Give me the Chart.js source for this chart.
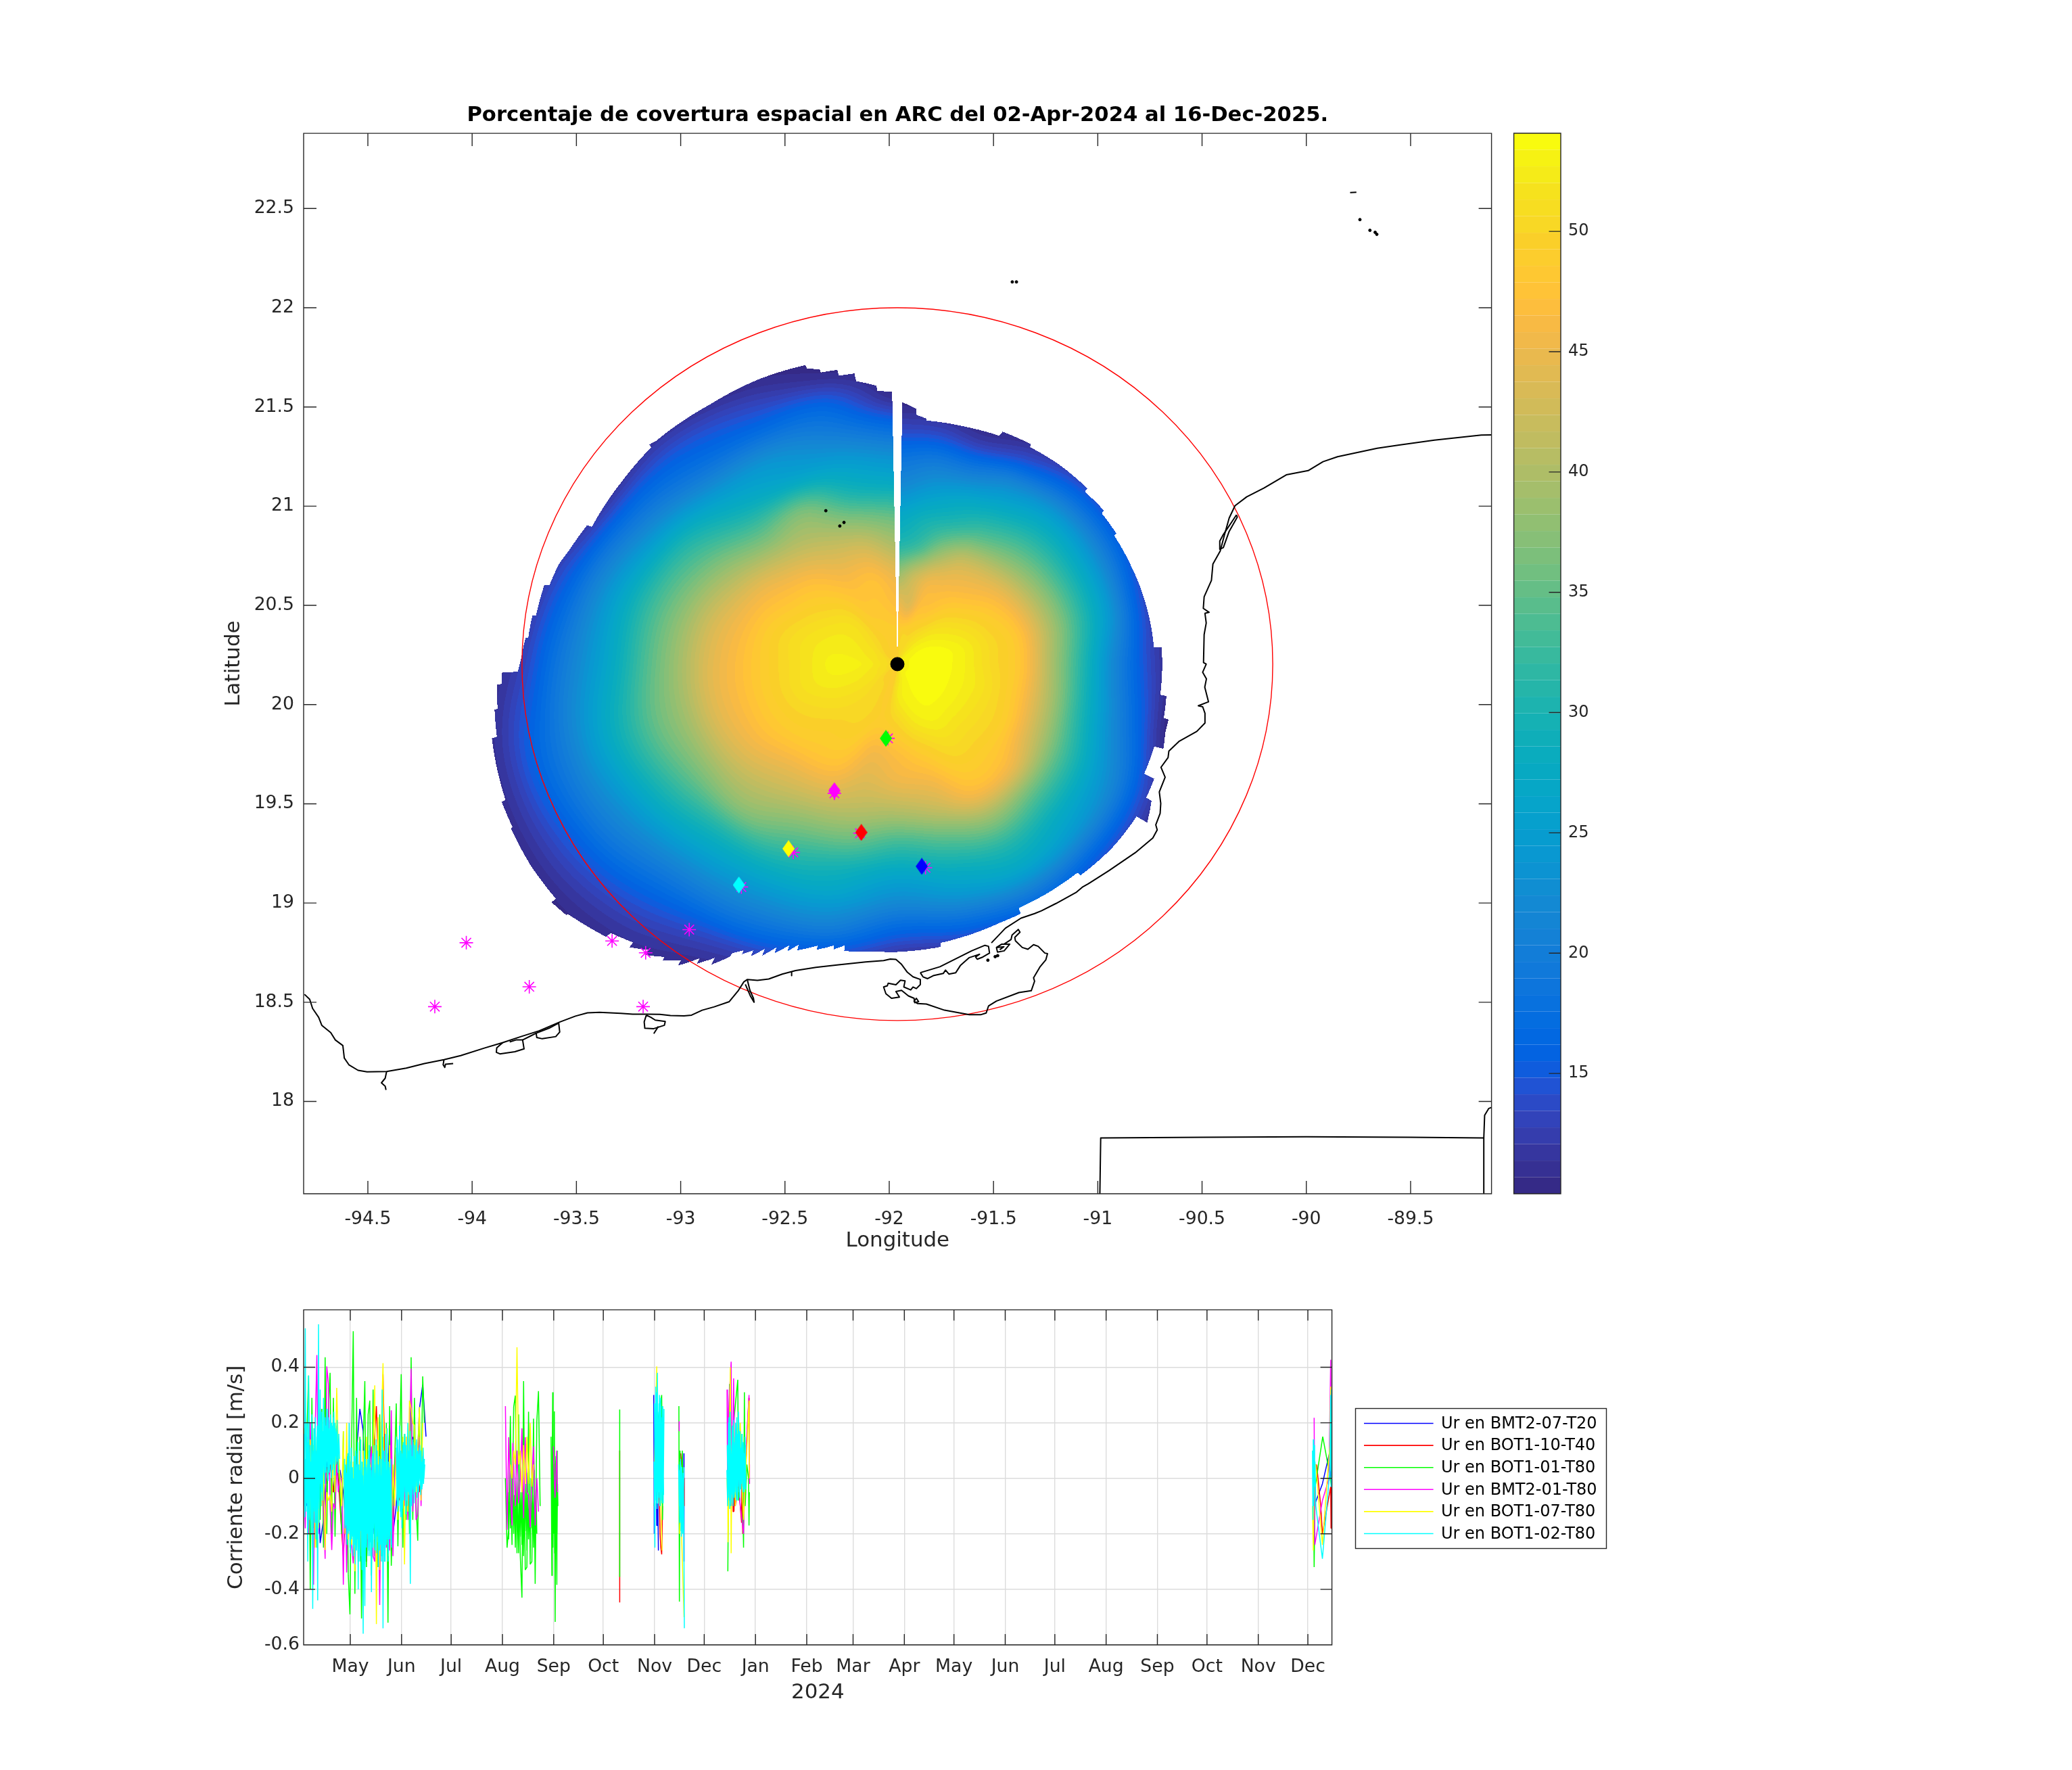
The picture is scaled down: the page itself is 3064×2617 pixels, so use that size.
<!DOCTYPE html>
<html>
<head>
<meta charset="utf-8">
<title>Porcentaje de covertura espacial</title>
<script src="https://cdn.jsdelivr.net/npm/chart.js@4/dist/chart.umd.js"></script>
<style>
body { margin: 0; background: #ffffff; }
canvas { position: absolute; left: 0; top: 0; }
</style>
</head>
<body>
<canvas id="mapChart" width="3064" height="2617"></canvas>
<canvas id="barChart" width="3064" height="2617"></canvas>
<canvas id="seriesChart" width="3064" height="2617"></canvas>
<script>
// ---- radar site, range ring, axis ticks
const siteLon = -91.961;
const siteLat = 20.204;
const ringRadiusLon = 1.8;
const ringRadiusLat = 1.796;
const lonTicks = [-94.5, -94, -93.5, -93, -92.5, -92, -91.5, -91, -90.5, -90, -89.5];
const latTicks = [18, 18.5, 19, 19.5, 20, 20.5, 21, 21.5, 22, 22.5];
const colorTicks = [15, 20, 25, 30, 35, 40, 45, 50];
const radialTicks = [-0.6, -0.4, -0.2, 0, 0.2, 0.4];
const colorMin = 10;
const colorMax = 54.08;

// ---- coverage [%], one row per bearing (deg from north), one column per range (deg)
const coverRanges = [0, 0.15, 0.3, 0.45, 0.6, 0.75, 0.9, 1.05, 1.2, 1.35, 1.5, 1.65, 1.8, 1.95, 2.1];
const coverBearings = [1.05, 10, 20, 30, 45, 60, 75, 90, 105, 120, 135, 150, 165, 180, 195, 210, 225, 240, 255, 270, 285, 300, 315, 330, 345, 358.95];
const coverTable = [
    [49, 49, 45, 39, 31, 27, 22, 18, 13, 10, 10, 10, 10, 10, 10],
    [50, 50, 44, 42, 33, 29, 24, 19, 13, 10, 10, 10, 10, 10, 10],
    [51, 50, 47, 45, 38, 31, 26, 19, 12, 10, 10, 10, 10, 10, 10],
    [52, 51, 48, 46, 42, 34, 28, 22, 14, 10, 10, 10, 10, 10, 10],
    [53, 52.5, 50.5, 47.5, 44, 37, 31, 25, 17, 11, 10, 10, 10, 10, 10],
    [53, 53.5, 52, 49.5, 46, 39, 32, 25, 17, 10, 10, 10, 10, 10, 10],
    [53, 54, 53, 50.5, 47.5, 40, 32, 24, 15, 10, 10, 10, 10, 10, 10],
    [53, 54, 53, 50.5, 47.5, 39, 30, 21, 14, 10, 10, 10, 10, 10, 10],
    [53, 54, 53, 51, 47.5, 40, 31, 23, 16, 10, 10, 10, 10, 10, 10],
    [53, 54, 53, 51, 48.5, 42, 34, 27, 21, 14, 10, 10, 10, 10, 10],
    [53, 54, 53, 51, 49, 45.5, 36, 29, 24, 16, 11, 10, 10, 10, 10],
    [53, 53.5, 53, 51, 49, 46, 38, 31, 26, 18, 11, 10, 10, 10, 10],
    [52, 53, 52, 49, 46, 42, 35, 29, 24, 17, 11, 10, 10, 10, 10],
    [50, 52, 50, 47, 45, 40, 33, 27, 22, 16, 11, 10, 10, 10, 10],
    [49, 49, 49, 46, 44, 41, 36, 30, 26, 21, 15, 11, 10, 10, 10],
    [49, 50, 50, 49, 47, 43, 38, 33, 28, 23, 18, 13, 10.5, 10, 10],
    [49, 50.5, 50.5, 49.5, 48, 44.5, 41, 37, 30, 25, 20, 16, 13, 11, 10],
    [50, 51.5, 51.5, 50.5, 49, 46.5, 43, 38, 33, 28, 23, 19, 15, 12, 10],
    [50, 52, 52.5, 51.5, 49.5, 47, 44, 39, 35, 30, 25, 20, 16, 12, 10],
    [50, 52.5, 53, 51.5, 49.5, 47, 44, 39, 34, 28, 23, 18, 13, 10.5, 10],
    [50, 52, 52.5, 51.5, 49.5, 46.5, 43, 38, 33, 27, 21, 15, 11, 10, 10],
    [50, 51.5, 52, 50.5, 48, 45, 40, 35, 30, 23, 17, 11, 10, 10, 10],
    [49, 50.5, 51, 49, 46.5, 42, 36, 30, 25, 19, 15, 11, 10, 10, 10],
    [49, 49.5, 48.5, 47, 44, 40, 36, 27, 23, 17, 13, 10, 10, 10, 10],
    [49, 49, 48, 47, 43, 37, 30, 25, 20, 16, 11, 10, 10, 10, 10],
    [49, 49, 47, 45, 40, 35, 28, 23, 17, 11, 10, 10, 10, 10, 10]
];

// ---- outer limit of the coverage, bearing (deg) and range (deg), jagged like the radials
const edgeBearing = [1.05, 4, 4.1, 6.4, 6.5, 15.5, 23, 23.3, 30, 30.2, 38, 45.8, 46, 52, 52.2, 57.9, 58.1, 66, 73, 86, 86.1, 97, 97.1, 102, 102.1, 105, 108.5, 108.6, 115, 115.1, 119.4, 119.5, 123.7, 123.8, 132, 140.5, 140.6, 154.7, 154.8, 159.4, 162.4, 171.6, 171.7, 182, 183, 190, 190.1, 192, 192.1, 195, 195.1, 198.4, 198.5, 200, 200.1, 202, 202.1, 203.8, 203.9, 205.5, 205.6, 207, 207.1, 208.5, 208.6, 210.5, 210.6, 212.5, 212.6, 214.7, 214.8, 217, 217.1, 219.5, 219.6, 222, 222.1, 225.4, 225.5, 231.4, 231.5, 234.1, 234.2, 240, 245.9, 246, 249.9, 250, 255, 259.1, 259.2, 263.2, 263.3, 266.9, 267, 268.7, 268.8, 270.6, 274.2, 274.3, 278, 278.1, 283.3, 283.4, 287.2, 290, 295.2, 295.3, 305, 312.8, 312.9, 314.1, 320, 325.6, 335, 343.7, 343.8, 345.9, 346, 349, 349.1, 352, 352.1, 355.9, 356, 358.95];
const edgeRange = [1.32, 1.29, 1.26, 1.245, 1.235, 1.24, 1.25, 1.275, 1.28, 1.265, 1.27, 1.27, 1.25, 1.257, 1.24, 1.239, 1.225, 1.225, 1.228, 1.233, 1.27, 1.27, 1.3, 1.306, 1.33, 1.33, 1.345, 1.3, 1.306, 1.36, 1.37, 1.4, 1.44, 1.38, 1.385, 1.38, 1.36, 1.36, 1.39, 1.393, 1.40, 1.42, 1.44, 1.453, 1.45, 1.468, 1.44, 1.47, 1.45, 1.49, 1.47, 1.52, 1.49, 1.54, 1.51, 1.57, 1.54, 1.606, 1.57, 1.63, 1.6, 1.64, 1.62, 1.657, 1.68, 1.758, 1.72, 1.79, 1.76, 1.848, 1.82, 1.87, 1.85, 1.9, 1.87, 1.92, 1.89, 1.93, 1.96, 2.02, 2.03, 2.047, 2.02, 2.03, 2.03, 2.02, 2.02, 2.0, 1.99, 1.98, 1.955, 1.945, 1.93, 1.923, 1.9, 1.898, 1.82, 1.806, 1.788, 1.775, 1.767, 1.75, 1.739, 1.715, 1.70, 1.675, 1.644, 1.62, 1.61, 1.608, 1.625, 1.614, 1.6, 1.587, 1.582, 1.57, 1.55, 1.532, 1.515, 1.51, 1.48, 1.479, 1.44, 1.407, 1.38, 1.372];

// ---- buoys and moorings
const starLon = [-94.028, -94.179, -93.726, -93.18, -93.329, -93.168, -92.959, -92.46, -92.006, -92.263, -92.14, -91.826, -92.709];
const starLat = [18.8, 18.478, 18.578, 18.478, 18.809, 18.749, 18.866, 19.255, 19.83, 19.553, 19.352, 19.178, 19.081];
const diamondNames = ["yellow", "aqua", "lime", "magenta", "red", "blue"];
const diamondLon = [-92.483, -92.721, -92.016, -92.263, -92.134, -91.844];
const diamondLat = [19.274, 19.091, 19.83, 19.566, 19.356, 19.185];

// ---- coast, lon lat pairs
const coastWest = [[-94.804, 18.54], [-94.779, 18.515], [-94.765, 18.469], [-94.736, 18.424], [-94.721, 18.384], [-94.678, 18.347], [-94.656, 18.31], [-94.62, 18.282], [-94.613, 18.219], [-94.591, 18.185], [-94.547, 18.157], [-94.504, 18.149], [-94.41, 18.151], [-94.316, 18.168], [-94.229, 18.191], [-94.135, 18.211], [-94.055, 18.231], [-93.939, 18.27], [-93.853, 18.297], [-93.766, 18.327], [-93.679, 18.356], [-93.578, 18.401], [-93.505, 18.43], [-93.447, 18.447], [-93.389, 18.449], [-93.288, 18.444], [-93.23, 18.44], [-93.158, 18.44], [-93.1, 18.439], [-93.049, 18.433], [-92.984, 18.431], [-92.948, 18.435], [-92.897, 18.46], [-92.839, 18.477], [-92.767, 18.503], [-92.723, 18.56], [-92.697, 18.603], [-92.68, 18.615], [-92.632, 18.61], [-92.578, 18.617], [-92.513, 18.642], [-92.449, 18.66], [-92.351, 18.676], [-92.243, 18.689], [-92.113, 18.703], [-92.027, 18.71], [-91.995, 18.718], [-91.968, 18.716], [-91.941, 18.691], [-91.913, 18.651], [-91.886, 18.628], [-91.851, 18.615], [-91.851, 18.589], [-91.87, 18.569], [-91.886, 18.577], [-91.897, 18.562], [-91.93, 18.577], [-91.924, 18.608], [-91.946, 18.611], [-91.968, 18.588], [-92.005, 18.596], [-92.009, 18.583], [-92.027, 18.577], [-92.016, 18.543], [-91.989, 18.52], [-91.951, 18.526], [-91.968, 18.554], [-91.941, 18.56], [-91.908, 18.532], [-91.881, 18.52], [-91.878, 18.498], [-91.859, 18.503], [-91.87, 18.52], [-91.881, 18.505], [-91.865, 18.494], [-91.822, 18.491], [-91.735, 18.46], [-91.616, 18.437], [-91.562, 18.437], [-91.535, 18.446], [-91.524, 18.481], [-91.486, 18.506], [-91.378, 18.549], [-91.319, 18.558], [-91.303, 18.606], [-91.308, 18.623], [-91.276, 18.68], [-91.249, 18.714], [-91.241, 18.745], [-91.254, 18.748], [-91.286, 18.782], [-91.308, 18.79], [-91.335, 18.767], [-91.362, 18.776], [-91.395, 18.81], [-91.398, 18.827], [-91.373, 18.853], [-91.381, 18.867], [-91.411, 18.839], [-91.416, 18.816], [-91.449, 18.793]];
const coastEast = [[-91.51, 18.799], [-91.443, 18.873], [-91.368, 18.924], [-91.303, 18.947], [-91.27, 18.961], [-91.2, 18.998], [-91.102, 19.055], [-91.074, 19.08], [-91.045, 19.097], [-90.947, 19.163], [-90.82, 19.254], [-90.736, 19.328], [-90.715, 19.369], [-90.722, 19.394], [-90.701, 19.452], [-90.698, 19.502], [-90.705, 19.56], [-90.677, 19.634], [-90.697, 19.684], [-90.663, 19.733], [-90.659, 19.766], [-90.609, 19.816], [-90.525, 19.865], [-90.486, 19.907], [-90.486, 19.956], [-90.497, 19.989], [-90.518, 19.994], [-90.469, 20.014], [-90.487, 20.088], [-90.479, 20.13], [-90.497, 20.163], [-90.48, 20.204], [-90.493, 20.212], [-90.49, 20.353], [-90.48, 20.411], [-90.486, 20.46], [-90.466, 20.465], [-90.494, 20.485], [-90.49, 20.543], [-90.455, 20.626], [-90.448, 20.708], [-90.413, 20.774], [-90.392, 20.857], [-90.37, 20.94], [-90.342, 21.002], [-90.286, 21.047], [-90.202, 21.092], [-90.096, 21.158], [-89.991, 21.179], [-89.92, 21.224], [-89.85, 21.249], [-89.66, 21.292], [-89.555, 21.308], [-89.386, 21.333], [-89.161, 21.358], [-89.112, 21.359]];
const islandCarmen = [[-91.851, 18.649], [-91.757, 18.679], [-91.681, 18.719], [-91.605, 18.759], [-91.541, 18.787], [-91.524, 18.782], [-91.519, 18.748], [-91.551, 18.728], [-91.578, 18.717], [-91.586, 18.728], [-91.567, 18.742], [-91.616, 18.725], [-91.659, 18.685], [-91.681, 18.649], [-91.714, 18.642], [-91.73, 18.662], [-91.741, 18.645], [-91.789, 18.634], [-91.816, 18.619], [-91.838, 18.628], [-91.851, 18.649]];
const islandCluster = [[-91.486, 18.776], [-91.46, 18.793], [-91.422, 18.793], [-91.449, 18.759], [-91.481, 18.753], [-91.486, 18.776], [-91.45, 18.78], [-91.47, 18.765]];
const lagoonOne = [[-93.853, 18.297], [-93.882, 18.27], [-93.884, 18.248], [-93.867, 18.24], [-93.795, 18.251], [-93.751, 18.265], [-93.758, 18.31], [-93.79, 18.31], [-93.82, 18.3]];
const lagoonTwo = [[-93.758, 18.31], [-93.72, 18.33], [-93.693, 18.344], [-93.69, 18.322], [-93.664, 18.316], [-93.599, 18.327], [-93.58, 18.35], [-93.585, 18.395], [-93.63, 18.37], [-93.693, 18.344]];
const lagoonThree = [[-93.165, 18.435], [-93.175, 18.401], [-93.172, 18.369], [-93.129, 18.367], [-93.078, 18.384], [-93.074, 18.403], [-93.122, 18.41], [-93.143, 18.424], [-93.165, 18.435]];
const lagoonTail = [[-93.107, 18.378], [-93.129, 18.342]];
const lagoonEast = [[-90.335, 20.956], [-90.331, 20.945], [-90.37, 20.873], [-90.398, 20.791], [-90.415, 20.783], [-90.415, 20.824], [-90.398, 20.857], [-90.356, 20.923], [-90.335, 20.956]];
const riverOne = [[-94.41, 18.151], [-94.417, 18.117], [-94.435, 18.094], [-94.417, 18.077], [-94.413, 18.058]];
const riverTwo = [[-94.135, 18.211], [-94.139, 18.185], [-94.131, 18.172], [-94.128, 18.188], [-94.091, 18.191]];
const riverThree = [[-92.68, 18.611], [-92.668, 18.56], [-92.651, 18.52], [-92.648, 18.5], [-92.665, 18.53], [-92.69, 18.59]];
const riverFour = [[-92.468, 18.651], [-92.468, 18.634]];
const borderSouth = [[-90.99, 17.535], [-90.986, 17.816], [-90.5, 17.82], [-90, 17.822], [-89.5, 17.82], [-89.149, 17.816], [-89.149, 17.535]];
const borderEast = [[-89.149, 17.816], [-89.145, 17.93], [-89.125, 17.965], [-89.112, 17.97]];
const islandDashOne = [[-89.79, 22.58], [-89.76, 22.582]];
const coastLines = [coastWest, coastEast, islandCarmen, islandCluster, lagoonOne, lagoonTwo, lagoonThree, lagoonTail, lagoonEast, riverOne, riverTwo, riverThree, riverFour, borderSouth, borderEast, islandDashOne];
const islandLon = [-92.304, -92.237, -92.217, -89.743, -89.695, -89.67, -89.662, -91.41, -91.39, -91.527, -91.492, -91.48];
const islandLat = [20.977, 20.9, 20.918, 22.444, 22.39, 22.38, 22.37, 22.13, 22.13, 18.712, 18.73, 18.735];

// ---- time axis
const axisStart = "2024-04-02T19:00:00Z";
const axisDays = 621.75;
const monthDates = ["2024-05-01", "2024-06-01", "2024-07-01", "2024-08-01", "2024-09-01", "2024-10-01", "2024-11-01", "2024-12-01", "2025-01-01", "2025-02-01", "2025-03-01", "2025-04-01", "2025-05-01", "2025-06-01", "2025-07-01", "2025-08-01", "2025-09-01", "2025-10-01", "2025-11-01", "2025-12-01"];
const monthLabels = ["May", "Jun", "Jul", "Aug", "Sep", "Oct", "Nov", "Dec", "Jan", "Feb", "Mar", "Apr", "May", "Jun", "Jul", "Aug", "Sep", "Oct", "Nov", "Dec"];

// ---- radial current [m/s], runs are start day, step, values
const cyanApr = [0.12, -0.1, 0.54, -0.12, 0.2, -0.3, 0.37, -0.15, 0.12, -0.2, 0.23, -0.47, 0.1, -0.12, 0.22, -0.22, 0.15, -0.44, 0.555, -0.16, 0.32, -0.1, 0.24, -0.08, 0.29, 0.02, 0.22, 0.02, 0.25, 0.04, 0.22, 0.02, 0.21, 0.05, 0.2, 0.03, 0.22, 0.05, 0.2, 0.08, 0.17, 0.06];
const cyanAprCore = [0.16, -0.14, 0.07, -0.09, 0.13, -0.18, 0.1, -0.07, 0.06, -0.15, 0.14, -0.12, 0.18, -0.16, 0.1, -0.05, 0.19, -0.11, 0.15, -0.02, 0.24, -0.05, 0.17, 0.01, 0.23, -0.02, 0.19, 0.04, 0.25, -0.01, 0.18, 0.03, 0.23, 0, 0.19, 0.05, 0.24, 0.01, 0.18, 0.05, 0.21, 0.02, 0.16, 0.07];
const cyanMay = [0.03, -0.18, 0.05, -0.22, 0.08, -0.2, 0.2, -0.25, 0.06, -0.22, 0.04, -0.28, 0.08, -0.24, 0.1, -0.26, 0.09, -0.4, 0.05, -0.3, 0.14, -0.28, 0.06, -0.56, 0.04, -0.46, 0.07, -0.25, 0.05, -0.28, 0.1, -0.28, 0.04, -0.41, 0.08, -0.25, 0.12, -0.22, 0.05, -0.27, 0.1, -0.23, 0.05, -0.26, 0.07, -0.3, 0.32, -0.54, 0.1, -0.3, 0.16, -0.24, 0.18, -0.3, 0.06, -0.22, 0.05, -0.24];
const cyanMayCore = [0.07, -0.17, 0.02, -0.24, 0.09, -0.19, 0.04, -0.27, 0.11, -0.21, 0, -0.25, 0.08, -0.31, 0.05, -0.22, 0.13, -0.28, 0.03, -0.19, 0.06, -0.33, 0.01, -0.24, 0.1, -0.3, 0.04, -0.2, 0.07, -0.26, 0.12, -0.23, 0.03, -0.29, 0.09, -0.18, 0.02, -0.26, 0.14, -0.21, 0.05, -0.32, 0.08, -0.24, 0.01, -0.28, 0.11, -0.2, 0.06, -0.3, 0.03, -0.22, 0.09, -0.27, 0.04, -0.19, 0.07, -0.25];
const cyanJun = [0.11, -0.08, 0.14, -0.1, 0.19, -0.12, 0.1, -0.18, 0.12, -0.08, 0.15, -0.06, 0.12, -0.08, 0.2, -0.05, 0.1, -0.38, 0.12, -0.1, 0.14, -0.06, 0.12, -0.05, 0.13, -0.03, 0.1, -0.05, 0.11, -0.02, 0.1, -0.04, 0.08, -0.02, 0.07];
const cyanJunCore = [0.15, -0.12, 0.08, -0.07, 0.17, -0.14, 0.09, -0.11, 0.13, -0.05, 0.16, -0.13, 0.07, -0.1, 0.14, -0.06, 0.17, -0.12, 0.08, -0.04, 0.13, -0.09, 0.07, -0.03, 0.14, -0.07, 0.09, -0.01, 0.12, -0.06, 0.06, -0.03, 0.11, 0, 0.05];
const cyanNov = [0.06, -0.25, 0.33, -0.09, 0.38, -0.09, 0.27, -0.1, 0.29, -0.08, 0.26, -0.09, 0.25];
const cyanNovCore = [0.27, -0.08, 0.31, -0.11, 0.24, -0.07, 0.3, -0.1, 0.22, -0.09, 0.26, -0.06];
const cyanNovB = [0.05, -0.1, 0.06, -0.19, 0.04, -0.2, 0.02, -0.54];
const cyanNovBCore = [0.03, -0.16, 0.07, -0.21, 0.02, -0.17, 0.04];
const cyanDec = [0.03, -0.1, 0.2, -0.08, 0.24, -0.1, 0.12, -0.09, 0.21, -0.07, 0.15, -0.06, 0.22, -0.08, 0.24, -0.05, 0.17, -0.04, 0.16, -0.03, 0.13, -0.05, 0.15, -0.04];
const cyanDecCore = [0.12, -0.07, 0.22, -0.11, 0.1, -0.06, 0.19, -0.1, 0.13, -0.05, 0.2, -0.08, 0.16, -0.03, 0.2, -0.07, 0.11, -0.02, 0.16, -0.05, 0.09, -0.04, 0.12];
const cyanLast = [[610, 0.1], [610.25, -0.15], [610.5, 0.14], [610.75, -0.1], [611, 0.12], [611.25, -0.03], [611.5, 0.06], [612, -0.1], [616, -0.29], [620.5, 0.03], [621, 0.3], [621.25, -0.03], [621.5, 0.32], [621.75, -0.03]];

const greenApr = [0.1, -0.12, 0.17, 0.37, -0.4, 0.29, -0.18, 0.2, -0.25, 0.22, -0.15, 0.25, -0.25, 0.436, -0.2, 0.25, 0.38, -0.2, 0.29, -0.21, 0.19, 0.05, -0.05, -0.2, 0.17, -0.18, 0.1, -0.35, -0.49, 0.12, 0.53, -0.416, 0.29, -0.3, 0.15, -0.505, 0.12, 0.35, -0.32, 0.23, 0.28, -0.35, 0.32, -0.28, 0.12, -0.32, 0.23, -0.28, 0.15, -0.3, 0.2, -0.52, 0.26, -0.315, -0.08, 0.05, 0.27, -0.245, 0.12, 0.375, -0.25, 0.16, -0.15, 0.15, -0.2, 0.436, -0.15, 0.29, -0.1, -0.225, 0.25, -0.05, 0.367, 0.2];
const greenAug = [0, -0.25, -0.18, 0.225, -0.19, 0.257, 0.298, -0.27, 0.23, -0.28, -0.43, 0.35, -0.33, -0.32, 0.24, -0.31, -0.3, 0.215, -0.38, 0.205, 0.314, -0.1];
const greenAugCore = [-0.05, -0.22, 0.02, -0.18, -0.08, -0.24, 0.04, -0.2, -0.06, -0.25, 0.01, -0.17, -0.09, -0.27, 0, -0.21, -0.05, -0.24, 0.03, -0.28, -0.07, -0.19, -0.02, -0.26, 0.02, -0.22, -0.08, -0.29, 0, -0.18, -0.06, -0.25, 0.03, -0.21, -0.04, -0.2];
const greenSep = [0.15, -0.1, -0.35, 0.1, 0.31, -0.1, -0.2, 0.05, 0.241, -0.2, -0.517, 0.05, 0.08, -0.25, -0.384, 0.1, 0.1];
const greenSepCore = [-0.02, -0.2, 0, -0.25, -0.04, -0.18, -0.01, -0.27, -0.03, -0.22, 0.01, -0.24, -0.05, -0.2, -0.02, -0.1];
const greenOct = [[191.1, 0.248], [191.12, -0.355]];
const greenNov = [[212, -0.1], [214, 0.2], [216.5, 0.3], [217, -0.15], [217.3, 0.1]];
const greenNovB = [[226.9, 0.26], [227.2, -0.444], [227.6, 0.1], [228, -0.1], [229, 0.1], [229.5, -0.1], [230, -0.1]];
const greenDec = [[256.5, -0.335], [257, 0.1], [257.5, 0.34], [258, -0.1], [260, 0.2], [262.5, 0.355], [263, -0.08], [265, 0.1], [266, -0.25], [266.5, 0.31], [267, -0.1], [268, 0.05], [269, 0], [269.3, -0.17], [269.5, -0.05]];
const greenLast = [[610.5, 0.05], [611, -0.32], [611.6, -0.03], [616.2, 0.15], [619, 0.06], [621.5, -0.03]];

const magentaApr = [0.05, -0.18, 0.15, -0.2, 0.2, -0.15, -0.383, 0.18, 0.444, -0.2, 0.25, 0.15, -0.12, -0.29, 0.403, 0.34, -0.1, -0.258, -0.09, -0.11, 0.05, -0.05, 0, 0, -0.383, 0.02, -0.339, 0, -0.2, -0.24, -0.306, -0.21, 0.05, -0.2, 0.1, -0.25, 0.08, -0.28, 0.06, -0.25, 0.05, 0.115, -0.28, -0.3, 0.1, 0, -0.456, 0.05, -0.3, 0.1, -0.25, 0.06, -0.26, 0.245, -0.28, 0, 0.1, -0.1, 0.1, -0.12, 0.12, -0.1, 0.15, -0.15, 0.1, 0.395, -0.12, 0.08, -0.15, -0.13, 0.15, -0.1, 0.1];
const magentaAug = [[122, 0.26], [122.3, 0.12], [123, -0.185], [124, 0.148], [125, -0.05], [126, -0.17], [126.5, 0.128], [128, -0.1], [129, 0.1], [130, -0.09], [131, 0], [132, 0.18], [133, -0.144], [134, 0.148], [135, -0.05], [136, -0.06], [137, -0.177], [138, 0], [139, 0.115], [140, -0.17], [141, 0], [142, -0.12]];
const magentaSep = [[151, 0.115], [152, -0.07], [153, 0.1], [153.5, -0.05]];
const magentaNov = [[227, 0.205], [227.1, 0.17]];
const magentaDec = [[256, 0.32], [256.3, 0], [257, 0.25], [258.5, 0.42], [259, -0.1], [260, 0.36], [260.5, 0.1], [262, 0], [263, 0.05], [263.7, -0.08], [265, -0.15], [266, -0.2], [267, 0.05], [269.3, 0.3], [269.5, 0.05], [269.6, -0.02]];
const magentaLast = [[611, 0.218], [611.4, -0.24], [616, -0.08], [620, 0], [621, 0.427], [621.2, 0.1]];

const yellowApr = [0.18, -0.06, 0.1, -0.14, 0.14, -0.2, 0.12, -0.25, 0.1, -0.18, 0.15, -0.1, 0.05, -0.258, -0.05, -0.08, -0.06, -0.12, 0.2, -0.05, 0.326, 0.1, 0, -0.1, 0.17, -0.2, 0.2, -0.22, 0.08, -0.24, 0.06, -0.335, 0.04, -0.25, 0.1, -0.28, 0.1, -0.3, 0.15, -0.22, 0.05, -0.3, 0.1, 0.335, -0.525, 0.22, -0.33, 0.2, 0.415, -0.3, 0.18, -0.28, 0.12, -0.2, 0.05, -0.1, 0.1, -0.15, 0.12, -0.15, 0.15, -0.31, 0.15, -0.12, 0.28, 0.25, 0.2, 0.19, -0.05, 0.1, 0.257, -0.08, 0.2];
const yellowAug = [0.05, 0, 0.1, 0.05, 0.472, 0.05, 0.1, -0.05, 0.12, -0.02, 0.15, -0.02, 0.2, -0.03, 0.05];
const yellowNov = [[212, 0], [213.5, 0.403], [214, -0.05], [215, 0.2], [216, -0.1], [216.7, -0.26]];
const yellowNovB = [[227.2, -0.2], [228, -0.1], [230, -0.5]];
const yellowDec = [[256, 0], [256.5, -0.1], [256.6, -0.23], [257, -0.1], [258, 0.4], [258.5, -0.27], [259, 0.1], [260, 0.2], [261, -0.1], [262, 0.2], [263, 0.1], [264, 0.2], [265, 0], [266, -0.15], [269.3, 0.28], [269.4, 0]];
const yellowLast = [[610, -0.1], [610.5, -0.26], [611, 0.05], [612, 0.05], [616, -0.24], [620.5, 0.12], [621, 0.33]];

const blueApr = [0.1, -0.1, 0.08, -0.12, 0.1, -0.233, -0.15, 0.05, 0.1, -0.05, 0.02, 0.03, -0.05, -0.2, 0.05, -0.1, 0.1, 0.25, 0.17, -0.15, 0.05, -0.2, 0.1, -0.2, 0.12, -0.15, 0.19, -0.2, -0.1, 0.1, -0.15, 0.1, -0.1, 0.15, -0.05, 0.25, 0.338, 0.15];
const blueNov = [[211.7, 0.3], [212, -0.2], [213, 0.2], [213.5, -0.17], [213.8, -0.09], [214, -0.16], [214.2, -0.09], [214.5, -0.26]];
const blueNovB = [[229.9, 0.09], [230, -0.3]];
const blueDec = [[257, 0.1], [258, -0.1]];
const blueLast = [[611, -0.1], [616, -0.02], [620.5, 0.097], [621, 0]];

const redApr = [0.02, -0.05, 0.05, -0.1, 0.03, -0.08, 0.1, -0.02, 0.05, -0.05, 0.08, -0.1, -0.28, -0.05, 0.05, -0.12, 0.1, -0.2, 0.05, -0.3, 0.02, 0.05, 0.26, -0.1, 0.375, -0.2, 0.05, -0.15, 0.1, -0.08, 0.1, -0.1, 0.08, -0.05, 0.1, -0.05, 0.06];
const redOct = [[191.1, 0.1], [191.12, -0.447]];
const redNov = [[215, -0.05], [215.5, -0.2], [216, -0.25], [216.5, -0.274], [217, -0.1]];
const redNovB = [[228, 0.09], [228.5, 0.05], [230, 0], [230.1, -0.1]];
const redDec = [[258, 0], [259.5, -0.03], [259.7, -0.12], [260, -0.03], [260.2, -0.12], [260.5, -0.04], [261, -0.1], [263, 0], [264, -0.1], [264.8, -0.16], [265, 0], [265.5, -0.2], [269.2, 0.29], [269.4, 0]];
const redLast = [[612.5, 0.05], [615, -0.1], [616, -0.2], [621, -0.03], [621.2, -0.18], [621.4, -0.03], [621.6, -0.18], [621.75, -0.05]];

// old parula, 64 levels, same steps as the colour bar
const parula = ["#352a87", "#363093", "#36369f", "#353dad", "#3243ba", "#2b4ac6", "#2053d4", "#0f5cdd", "#0363e1", "#0268e1", "#046de0", "#0871de", "#0d75dc", "#1079da", "#127dd8", "#1481d6", "#1485d4", "#1389d3", "#108ed2", "#0c93d2", "#0998d1", "#079ccf", "#06a0cd", "#06a4ca", "#06a7c6", "#07a9c2", "#0aacbe", "#0faeb9", "#15b1b4", "#1db3af", "#25b5a9", "#2eb7a4", "#38b99e", "#42bb98", "#4dbc92", "#59bd8c", "#65be86", "#71bf80", "#7cbf7b", "#87bf77", "#91bf72", "#9bbf6e", "#a5be6b", "#aebd67", "#b7bd64", "#c0bc60", "#c8bc5d", "#d1bb59", "#d9ba56", "#e1ba52", "#e9b94e", "#f1b94a", "#f8ba44", "#fdbe3d", "#ffc337", "#fec832", "#fccd2d", "#facf29", "#f8d825", "#f7dd21", "#f6e21d", "#f5eb18", "#f6f213", "#f9fb0e"];

const family = "'DejaVu Sans'";
const inkColor = "#262626";


function lerpAt(xs, ys, x) {
    if (x <= xs[0]) return ys[0];
    for (let i = 1; i < xs.length; i++) {
        if (x <= xs[i]) return ys[i - 1] + (ys[i] - ys[i - 1]) * (x - xs[i - 1]) / (xs[i] - xs[i - 1]);
    }
    return ys[ys.length - 1];
}

// smooth shading between table nodes, like shading interp
function cubic(a, b, c, d, t) {
    return b + 0.5 * t * (c - a + t * (2 * a - 5 * b + 4 * c - d + t * (3 * (b - c) + d - a)));
}

function rowAt(row, range) {
    const last = coverRanges.length - 1;
    let i = 1;
    while (i < last && coverRanges[i] < range) i++;
    const t = Math.min(1, (range - coverRanges[i - 1]) / (coverRanges[i] - coverRanges[i - 1]));
    return cubic(row[Math.max(i - 2, 0)], row[i - 1], row[i], row[Math.min(i + 1, last)], t);
}

function coverAt(bearing, range) {
    const last = coverBearings.length - 1;
    let b = 1;
    while (b < last && coverBearings[b] < bearing) b++;
    const t = Math.min(1, Math.max(0, (bearing - coverBearings[b - 1]) / (coverBearings[b] - coverBearings[b - 1])));
    return cubic(
        rowAt(coverTable[Math.max(b - 2, 0)], range),
        rowAt(coverTable[b - 1], range),
        rowAt(coverTable[b], range),
        rowAt(coverTable[Math.min(b + 1, last)], range),
        t
    );
}

// field and ring are painted under the datasets, going through the axes for every pixel
const coveragePlugin = {
    id: "coverage",
    beforeDatasetsDraw(chart) {
        const xs = chart.scales.x;
        const ys = chart.scales.y;
        const area = chart.chartArea;
        const left = Math.round(area.left);
        const top = Math.round(area.top);
        const w = Math.round(area.right) - left;
        const h = Math.round(area.bottom) - top;
        const ctx = chart.ctx;
        const image = ctx.createImageData(w, h);
        const rgb = parula.map(c => [1, 3, 5].map(i => parseInt(c.substr(i, 2), 16)));
        for (let py = 0; py < h; py++) {
            const dy = ys.getValueForPixel(top + py + 0.5) - siteLat;
            for (let px = 0; px < w; px++) {
                const dx = xs.getValueForPixel(left + px + 0.5) - siteLon;
                const range = Math.hypot(dx, dy);
                if (range > 2.1) continue;
                let bearing = Math.atan2(dx, dy) * 180 / Math.PI;
                if (bearing < 0) bearing += 360;
                if (bearing < edgeBearing[0] || bearing > edgeBearing[edgeBearing.length - 1]) continue;
                if (range > lerpAt(edgeBearing, edgeRange, bearing)) continue;
                const value = coverAt(bearing, range);
                const level = Math.max(0, Math.min(63, Math.floor((value - colorMin) / (colorMax - colorMin) * 64)));
                const o = (py * w + px) * 4;
                image.data[o] = rgb[level][0];
                image.data[o + 1] = rgb[level][1];
                image.data[o + 2] = rgb[level][2];
                image.data[o + 3] = 255;
            }
        }
        ctx.putImageData(image, left, top);

        const cx = xs.getPixelForValue(siteLon);
        const cy = ys.getPixelForValue(siteLat);
        ctx.save();
        ctx.strokeStyle = "#ff0000";
        ctx.lineWidth = 1.4;
        ctx.beginPath();
        ctx.ellipse(cx, cy, xs.getPixelForValue(siteLon + ringRadiusLon) - cx, cy - ys.getPixelForValue(siteLat + ringRadiusLat), 0, 0, 2 * Math.PI);
        ctx.stroke();
        ctx.restore();
    }
};

// matlab style box, ticks point inwards
function framePlugin(xTick, yTick, bothSides) {
    return {
        id: "frame",
        afterDatasetsDraw(chart) {
            const ctx = chart.ctx;
            const a = chart.chartArea;
            ctx.save();
            ctx.strokeStyle = inkColor;
            ctx.lineWidth = 1.4;
            ctx.beginPath();
            if (chart.scales.x.options.display) {
                for (const t of chart.scales.x.ticks) {
                    const x = chart.scales.x.getPixelForValue(t.value);
                    ctx.moveTo(x, a.bottom);
                    ctx.lineTo(x, a.bottom - xTick);
                    ctx.moveTo(x, a.top);
                    ctx.lineTo(x, a.top + xTick);
                }
            }
            for (const t of chart.scales.y.ticks) {
                const y = chart.scales.y.getPixelForValue(t.value);
                ctx.moveTo(a.right, y);
                ctx.lineTo(a.right - yTick, y);
                if (bothSides) {
                    ctx.moveTo(a.left, y);
                    ctx.lineTo(a.left + yTick, y);
                }
            }
            ctx.rect(a.left, a.top, a.right - a.left, a.bottom - a.top);
            ctx.stroke();
            ctx.restore();
        }
    };
}

const legendPlugin = {
    id: "boxLegend",
    afterDraw(chart) {
        const ctx = chart.ctx;
        ctx.save();
        ctx.fillStyle = "#ffffff";
        ctx.fillRect(2004.5, 2082.5, 371, 207);
        ctx.strokeStyle = inkColor;
        ctx.lineWidth = 1.4;
        ctx.strokeRect(2004.5, 2082.5, 371, 207);
        ctx.font = "24px " + family;
        ctx.textBaseline = "middle";
        chart.data.datasets.forEach((d, i) => {
            const y = 2104.5 + i * 32.6;
            ctx.strokeStyle = d.borderColor;
            ctx.lineWidth = 1.6;
            ctx.beginPath();
            ctx.moveTo(2017, y);
            ctx.lineTo(2119.6, y);
            ctx.stroke();
            ctx.fillStyle = "#000000";
            ctx.fillText(d.label, 2131, y + 1);
        });
        ctx.restore();
    }
};

function pairsToXY(pairs) {
    return pairs.map(p => ({ x: p[0], y: p[1] }));
}

function run(start, step, values) {
    return values.map((v, i) => [start + i * step, v]);
}

function joinRuns() {
    let out = [];
    for (const r of arguments) {
        if (out.length) out.push({ x: r[0][0] - 0.01, y: null });
        out = out.concat(pairsToXY(r));
    }
    return out;
}

function diamondImage(color) {
    const c = document.createElement("canvas");
    c.width = 18;
    c.height = 25;
    const g = c.getContext("2d");
    g.fillStyle = color;
    g.beginPath();
    g.moveTo(9, 0);
    g.lineTo(18, 12.5);
    g.lineTo(9, 25);
    g.lineTo(0, 12.5);
    g.closePath();
    g.fill();
    return c;
}

function fixedTicks(values) {
    return scale => {
        scale.ticks = values.map(v => ({ value: v }));
    };
}

function seriesSet(label, color, level, data) {
    return {
        label: label,
        data: data,
        showLine: true,
        borderColor: color,
        borderWidth: 1.5,
        borderJoinStyle: "bevel",
        pointRadius: 0,
        tension: 0,
        order: level
    };
}


window.addEventListener("DOMContentLoaded", init);

function init() {
    Chart.defaults.font.family = family;
    Chart.defaults.animation = false;
    Chart.defaults.events = [];
    Chart.defaults.plugins.legend.display = false;
    Chart.defaults.plugins.tooltip.enabled = false;

    drawMap();
    drawColorBar();
    drawSeries();
}

function drawMap() {
    const datasets = [];
    datasets.push({
        data: [{ x: siteLon, y: siteLat }],
        pointStyle: "circle",
        pointRadius: 10,
        backgroundColor: "#000000",
        borderColor: "#000000",
        order: 0
    });
    diamondNames.forEach((name, i) => {
        datasets.push({
            data: [{ x: diamondLon[i], y: diamondLat[i] }],
            pointStyle: diamondImage(name),
            order: 1
        });
    });
    datasets.push({
        data: starLon.map((x, i) => ({ x: x, y: starLat[i] })),
        pointStyle: "star",
        pointRadius: 10,
        borderColor: "#ff00ff",
        borderWidth: 1.6,
        order: 2
    });
    datasets.push({
        data: islandLon.map((x, i) => ({ x: x, y: islandLat[i] })),
        pointRadius: 2,
        backgroundColor: "#000000",
        borderColor: "#000000",
        order: 3
    });
    for (const line of coastLines) {
        datasets.push({
            data: pairsToXY(line),
            showLine: true,
            borderColor: "#000000",
            borderWidth: 2,
            borderJoinStyle: "round",
            pointRadius: 0,
            tension: 0,
            order: 4
        });
    }

    new Chart(document.getElementById("mapChart"), {
        type: "scatter",
        data: { datasets: datasets },
        options: {
            responsive: false,
            devicePixelRatio: 1,
            layout: { padding: { left: 320, right: 858.4, top: 152.8, bottom: 757 } },
            plugins: {
                title: {
                    display: true,
                    text: "Porcentaje de covertura espacial en ARC del 02-Apr-2024 al 16-Dec-2025.",
                    color: "#000000",
                    fullSize: false,
                    font: { family: family, size: 30.65, weight: "bold" },
                    padding: { top: 0, bottom: 7.5 }
                }
            },
            scales: {
                x: {
                    type: "linear",
                    min: -94.808,
                    max: -89.112,
                    afterBuildTicks: fixedTicks(lonTicks),
                    afterFit: s => { s.height = 95; },
                    grid: { display: false },
                    border: { display: false },
                    ticks: { color: inkColor, font: { size: 26.67 }, padding: 14, maxRotation: 0, autoSkip: false, callback: v => String(v) },
                    title: { display: true, text: "Longitude", color: inkColor, font: { size: 30.9 }, padding: { top: 0, bottom: 6 } }
                },
                y: {
                    type: "linear",
                    min: 17.535,
                    max: 22.879,
                    afterBuildTicks: fixedTicks(latTicks),
                    afterFit: s => { s.width = 129; },
                    grid: { display: false },
                    border: { display: false },
                    ticks: { color: inkColor, font: { size: 26.67 }, padding: 6, autoSkip: false, callback: v => String(v) },
                    title: { display: true, text: "Latitude", color: inkColor, font: { size: 30.9 }, padding: { top: 7.5, bottom: 0 } }
                }
            }
        },
        plugins: [coveragePlugin, framePlugin(19, 19, true)]
    });
}

function drawColorBar() {
    const step = (colorMax - colorMin) / parula.length;
    const datasets = parula.map((color, i) => ({
        data: [[colorMin + i * step, colorMin + (i + 1) * step]],
        backgroundColor: color,
        borderColor: color,
        borderWidth: 0.5,
        barPercentage: 1,
        categoryPercentage: 1,
        grouped: false
    }));

    new Chart(document.getElementById("barChart"), {
        type: "bar",
        data: { labels: ["cobertura"], datasets: datasets },
        options: {
            responsive: false,
            devicePixelRatio: 1,
            layout: { padding: { left: 2238.6, right: 676, top: 197, bottom: 852 } },
            scales: {
                x: { display: false },
                y: {
                    position: "right",
                    min: colorMin,
                    max: colorMax,
                    afterBuildTicks: fixedTicks(colorTicks),
                    afterFit: s => { s.width = 80; },
                    grid: { display: false },
                    border: { display: false },
                    ticks: { color: inkColor, font: { size: 24 }, padding: 3, autoSkip: false, callback: v => String(v) }
                }
            }
        },
        plugins: [framePlugin(0, 17.5, false)]
    });
}

function drawSeries() {
    const origin = Date.parse(axisStart);
    const monthDays = monthDates.map(d => (Date.parse(d + "T00:00:00Z") - origin) / 86400000);

    const blue = joinRuns(run(0, 2, blueApr), blueNov, blueNovB, blueDec, blueLast);
    const red = joinRuns(run(0, 2, redApr), redOct, redNov, redNovB, redDec, redLast);
    const green = joinRuns(run(0, 1, greenApr), run(122, 1, greenAug), run(123.5, 0.5, greenAugCore), run(149.6, 0.25, greenSep), run(150, 0.25, greenSepCore), greenOct, greenNov, greenNovB, greenDec, greenLast);
    const magenta = joinRuns(run(0, 1, magentaApr), magentaAug, magentaSep, magentaNov, magentaDec, magentaLast);
    const yellow = joinRuns(run(0, 1, yellowApr), run(125, 1, yellowAug), yellowNov, yellowNovB, yellowDec, yellowLast);
    const cyan = joinRuns(
        run(0, 0.5, cyanApr), run(0.25, 0.5, cyanAprCore),
        run(24.5, 0.5, cyanMay), run(24.75, 0.5, cyanMayCore),
        run(56, 0.5, cyanJun), run(56.25, 0.5, cyanJunCore),
        run(211.9, 0.5, cyanNov), run(212.15, 0.5, cyanNovCore),
        run(226.7, 0.5, cyanNovB), run(226.95, 0.5, cyanNovBCore),
        run(255.9, 0.5, cyanDec), run(256.15, 0.5, cyanDecCore),
        cyanLast
    );

    new Chart(document.getElementById("seriesChart"), {
        type: "scatter",
        data: {
            datasets: [
                seriesSet("Ur en BMT2-07-T20", "#0000ff", 6, blue),
                seriesSet("Ur en BOT1-10-T40", "#ff0000", 5, red),
                seriesSet("Ur en BOT1-01-T80", "#00ff00", 4, green),
                seriesSet("Ur en BMT2-01-T80", "#ff00ff", 3, magenta),
                seriesSet("Ur en BOT1-07-T80", "#ffff00", 2, yellow),
                seriesSet("Ur en BOT1-02-T80", "#00ffff", 1, cyan)
            ]
        },
        options: {
            responsive: false,
            devicePixelRatio: 1,
            layout: { padding: { left: 320, right: 1094.4, top: 1936.6, bottom: 90 } },
            scales: {
                x: {
                    type: "linear",
                    min: 0,
                    max: axisDays,
                    afterBuildTicks: fixedTicks(monthDays),
                    afterFit: s => { s.height = 95; },
                    grid: { color: "#dcdcdc", lineWidth: 1.4, drawTicks: false },
                    border: { display: false },
                    ticks: { color: inkColor, font: { size: 26.67 }, padding: 17, maxRotation: 0, autoSkip: false, callback: (v, i) => monthLabels[i] },
                    title: { display: true, text: "2024", color: inkColor, font: { size: 30.9 }, padding: { top: 0, bottom: 5.5 } }
                },
                y: {
                    type: "linear",
                    min: -0.6,
                    max: 0.607,
                    afterBuildTicks: fixedTicks(radialTicks),
                    afterFit: s => { s.width = 129; },
                    grid: { color: "#dcdcdc", lineWidth: 1.4, drawTicks: false },
                    border: { display: false },
                    ticks: { color: inkColor, font: { size: 26.67 }, padding: 6, autoSkip: false, callback: v => String(Math.round(v * 10) / 10) },
                    title: { display: true, text: "Corriente radial [m/s]", color: inkColor, font: { size: 30.9 }, padding: { top: 11, bottom: 0 } }
                }
            }
        },
        plugins: [framePlugin(16, 17, true), legendPlugin]
    });
}
</script>
</body>
</html>
